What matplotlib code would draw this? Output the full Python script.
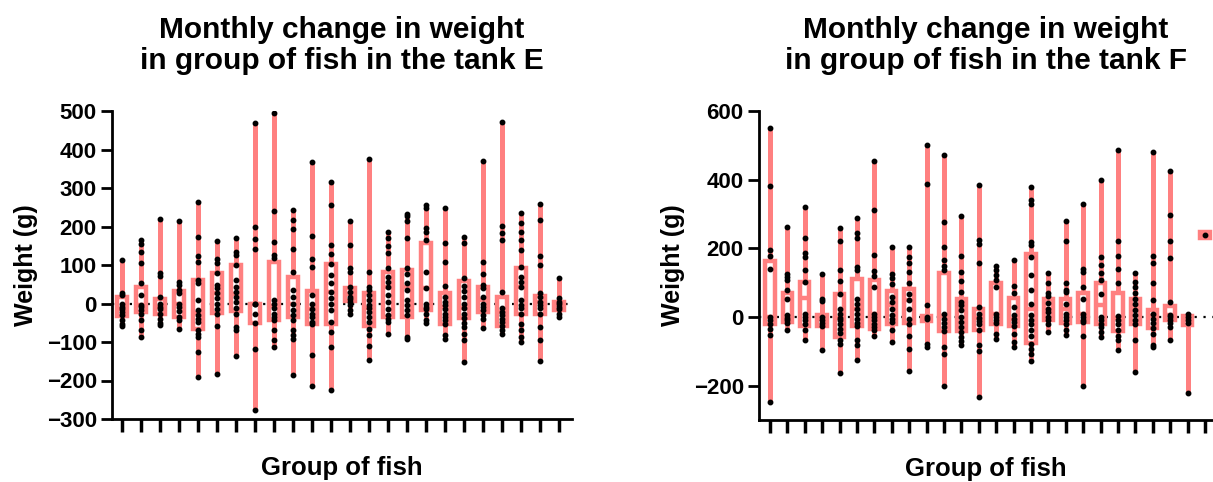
import matplotlib.pyplot as plt
import numpy as np

plt.rcParams['font.family'] = ['Liberation Sans', 'DejaVu Sans']
plt.rcParams['font.weight'] = 'bold'

salmon = '#ff8080'

# tank E: individual fish, box edges (q1, q3)
tank_e_points = [
    [113, 28, 22, 0, -8, -15, -21, -30, -43, -52, -58],
    [165, 154, 134, 104, 54, 22, -4, -8, -17, -26, -43, -69, -88],
    [219, 80, 71, 18, -1, -8, -15, -26, -39, -50, -56],
    [214, 57, 48, 35, 26, 0, -8, -19, -34, -43, -65],
    [263, 174, 123, 108, 61, 54, 9, -17, -30, -39, -48, -69, -78, -86, -125, -190],
    [162, 115, 104, 78, 48, 39, 28, 13, -1, -13, -26, -58, -183],
    [169, 134, 126, 100, 61, 44, 31, 18, 5, -12, -26, -60, -69, -137],
    [468, 198, 167, 141, 0, -1, -26, -50, -119, -277],
    [496, 240, 161, 126, 117, 9, 0, -12, -26, -34, -43, -69, -95, -114],
    [243, 217, 194, 142, 83, 35, 18, 0, -17, -30, -43, -69, -82, -91, -186],
    [368, 175, 115, 96, 22, -1, -13, -26, -34, -47, -53, -134, -214],
    [316, 257, 152, 129, 103, 74, 52, 31, 13, 0, -17, -47, -73, -112, -225],
    [214, 152, 91, 82, 43, 31, 18, 11, 5, -4, -17, -26],
    [375, 83, 44, 35, 22, 9, -4, -12, -21, -34, -47, -65, -82, -110, -147],
    [185, 169, 150, 132, 93, 70, 57, 44, 22, 5, -15, -30, -39, -48, -79],
    [233, 226, 213, 171, 91, 77, 52, 35, 9, -4, -17, -30, -86, -92],
    [256, 247, 195, 186, 166, 83, 39, -1, -8, -15, -26, -43, -50],
    [247, 156, 109, 45, 18, 5, -4, -15, -26, -34, -43, -52, -82, -93],
    [174, 158, 65, 45, 33, 18, 0, -12, -26, -38, -50, -60, -78, -95, -153],
    [370, 109, 76, 48, 39, 18, -1, -8, -17, -30, -39, -63],
    [472, 201, 182, 165, 31, -12, -21, -30, -39, -47, -58, -69, -79],
    [234, 208, 187, 165, 139, 96, 70, 57, 44, 9, -4, -12, -26, -52, -69, -86, -99],
    [258, 217, 123, 100, 28, 16, 5, -4, -12, -26, -60, -95, -149],
    [65, 13, 5, -1, -8, -15, -26, -34],
]
tank_e_q1 = [-32, -23, -28, -34, -65, -24, -19, -50, -43, -36, -53, -53,
             6, -58, -34, -36, -17, -53, -38, -23, -58, -26, -28, -17]
tank_e_q3 = [16, 44, 11, 32, 61, 78, 100, -1, 109, 68, 32, 103,
             41, 28, 83, 87, 156, 28, 59, 42, 18, 93, 20, 3]

# tank F
tank_f_points = [
    [551, 382, 195, 178, 141, 0, -10, -20, -34, -51, -249],
    [261, 125, 117, 107, 78, 51, 5, -2, -10, -18, -39],
    [320, 229, 185, 176, 137, 102, 10, 0, -10, -21, -39, -68],
    [124, 52, 46, 0, -10, -18, -26, -95],
    [259, 222, 137, 105, 68, 24, 10, -2, -10, -21, -34, -47, -66, -78, -163],
    [289, 244, 229, 146, 137, 51, 39, 24, 10, -5, -18, -27, -68, -83, -125],
    [454, 312, 180, 135, 119, 88, 10, 0, -10, -20, -29, -39, -54],
    [205, 125, 115, 96, 59, 44, 24, 5, -5, -15, -39, -73],
    [205, 176, 156, 132, 98, 68, 49, 24, -5, -20, -54, -93, -158],
    [502, 387, 34, 0, -5, -78, -88],
    [473, 278, 203, 166, 148, 137, 10, -5, -18, -29, -41, -88, -107, -200],
    [293, 178, 132, 104, 73, 44, 34, 20, 0, -15, -29, -44, -59, -70, -83],
    [385, 224, 212, 156, 29, 10, -2, -12, -21, -37, -83, -100, -234],
    [148, 137, 122, 107, 88, 10, 0, -10, -18, -49, -63],
    [166, 90, 70, 29, 5, -5, -15, -27, -49, -73, -86],
    [379, 341, 329, 217, 210, 176, 122, 80, 39, 5, -10, -20, -39, -54, -78, -93, -107, -129],
    [129, 100, 70, 60, 41, 24, 15, 0, -8, -21, -44],
    [281, 222, 100, 80, 73, 39, 10, 0, -10, -20, -39, -51],
    [330, 141, 132, 86, 51, 10, 0, -8, -15, -54, -200],
    [400, 176, 151, 127, 109, 68, 0, -10, -20, -29, -44, -59],
    [486, 220, 178, 139, 98, 2, -10, -21, -37, -54, -68, -96],
    [127, 102, 86, 70, 51, 39, 20, 5, -10, -21, -66, -161],
    [481, 178, 158, 100, 49, 10, -5, -18, -32, -49, -83, -88],
    [426, 296, 222, 171, 44, 5, 0, -8, -18, -29, -68],
    [10, 0, -10, -18, -221],
    [239],
]
tank_f_q1 = [-21, -15, -26, -26, -59, -27, -36, -20, -17, -12, -41, -41, -37,
             -21, -27, -76, -8, -18, -15, -21, -41, -21, -32, -8, -22, 231]
tank_f_q3 = [164, 70, 102, 7, 66, 112, 107, 76, 83, 2, 127, 51, 22,
             98, 56, 183, 52, 52, 70, 100, 71, 51, 20, 31, 2, 248]


def draw_panel(ax, points, q1, q3, title, ylim, yticks, xlim, width):
    stats = []
    for p, lo, hi in zip(points, q1, q3):
        stats.append(dict(med=np.median(p), q1=lo, q3=hi,
                          whislo=min(p), whishi=max(p), fliers=[]))
    pos = np.arange(len(points))
    ax.axhline(0, color='black', lw=1.6, ls=(0, (1, 3)), zorder=1)
    ax.bxp(stats, positions=pos, widths=width, patch_artist=True,
           showcaps=False, showfliers=False,
           boxprops=dict(facecolor='white', edgecolor=salmon, linewidth=3.2),
           whiskerprops=dict(color=salmon, linewidth=3.6, solid_capstyle='butt'),
           medianprops=dict(color=salmon, linewidth=3.2), zorder=2)
    for x, p in zip(pos, points):
        ax.plot([x] * len(p), p, 'o', color='black', markersize=3.2, zorder=3)

    ax.set_xlim(*xlim)
    ax.set_ylim(*ylim)
    ax.set_yticks(yticks)
    ax.set_xticks(pos)
    ax.set_xticklabels([])
    for s in ['top', 'right']:
        ax.spines[s].set_visible(False)
    for s in ['left', 'bottom']:
        ax.spines[s].set_linewidth(2)
    ax.tick_params(axis='y', length=8, width=2, labelsize=16, pad=3)
    ax.tick_params(axis='x', length=9, width=2.5)
    ax.set_ylabel('Weight (g)', fontsize=18, fontweight='bold', labelpad=6)
    ax.set_xlabel('Group of fish', fontsize=18.5, fontweight='bold', labelpad=14)
    ax.set_title(title, fontsize=21.5, fontweight='bold', pad=30, linespacing=1.15)


fig = plt.figure(figsize=(12.13, 4.82), dpi=100)
ax1 = fig.add_axes([112 / 1213, 1 - 419 / 482, 460 / 1213, 308 / 482])
ax2 = fig.add_axes([759 / 1213, 1 - 420 / 482, 454 / 1213, 309 / 482])

draw_panel(ax1, tank_e_points, tank_e_q1, tank_e_q3,
           'Monthly change in weight\nin group of fish in the tank E',
           (-300, 500), range(-300, 501, 100), (-0.53, 23.68), 0.5)
draw_panel(ax2, tank_f_points, tank_f_q1, tank_f_q3,
           'Monthly change in weight\nin group of fish in the tank F',
           (-300, 600), range(-200, 601, 200), (-0.63, 25.46), 0.54)

fig.savefig('out.png', dpi=100)
